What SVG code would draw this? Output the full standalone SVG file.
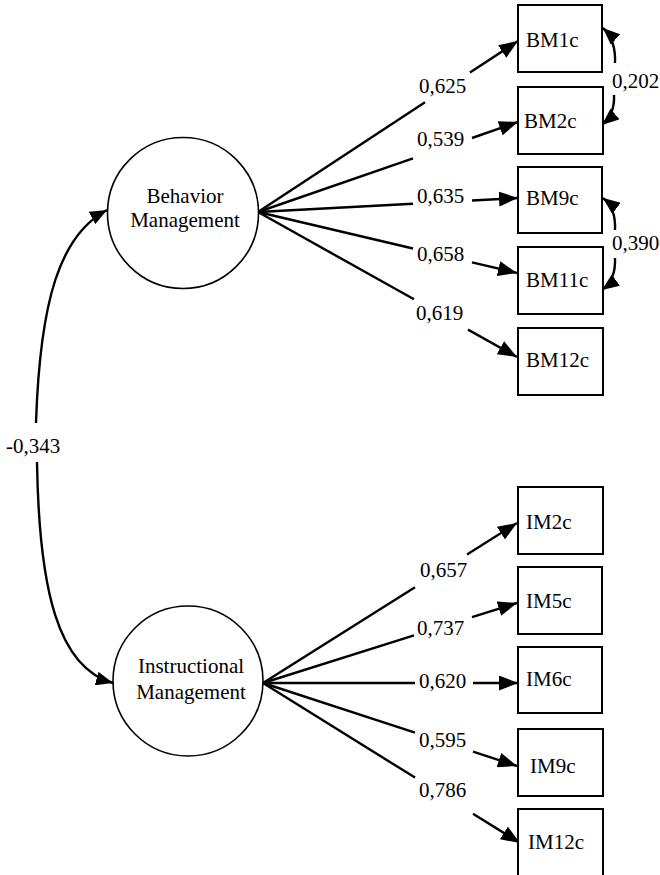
<svg xmlns="http://www.w3.org/2000/svg" width="660" height="875" viewBox="0 0 660 875">
<style>
text{font-family:"Liberation Serif","Tinos","Nimbus Roman","Times New Roman","DejaVu Serif",serif;font-size:21px;fill:#000}
.c{text-anchor:middle}
.box{fill:#fff;stroke:#000;stroke-width:2}
.lat{fill:#fff;stroke:#000;stroke-width:1.6}
.ln{fill:none;stroke:#000;stroke-width:2.4}
</style>
<defs>
<marker id="ah" viewBox="0 0 19 15" refX="19" refY="7.5" markerWidth="19" markerHeight="15" markerUnits="userSpaceOnUse" orient="auto"><path d="M0,0 L19,7.5 L0,15 z" fill="#000"/></marker>
<marker id="ah2" viewBox="0 0 17 14" refX="17" refY="7" markerWidth="17" markerHeight="14" markerUnits="userSpaceOnUse" orient="auto"><path d="M0,0 L17,7 L0,14 z" fill="#000"/></marker>
</defs>
<rect width="660" height="875" fill="#fff"/>
<g id="connectors">
<line class="ln" x1="258" y1="212" x2="425" y2="102.2"/><line class="ln" x1="470" y1="72.6" x2="518" y2="41" marker-end="url(#ah)"/>
<line class="ln" x1="258" y1="212" x2="413" y2="158.4"/><line class="ln" x1="472" y1="138" x2="518" y2="122" marker-end="url(#ah)"/>
<line class="ln" x1="258" y1="212" x2="413" y2="203.7"/><line class="ln" x1="472" y1="200.5" x2="518" y2="198" marker-end="url(#ah)"/>
<line class="ln" x1="258" y1="212" x2="413" y2="248.5"/><line class="ln" x1="472" y1="262.4" x2="517" y2="273" marker-end="url(#ah)"/>
<line class="ln" x1="258" y1="212" x2="414" y2="299.3"/><line class="ln" x1="468" y1="329.6" x2="517" y2="357" marker-end="url(#ah)"/>
<line class="ln" x1="263" y1="683" x2="415" y2="587.2"/><line class="ln" x1="467" y1="554.5" x2="517" y2="523" marker-end="url(#ah)"/>
<line class="ln" x1="263" y1="683" x2="414" y2="635.4"/><line class="ln" x1="472" y1="617.2" x2="517" y2="603" marker-end="url(#ah)"/>
<line class="ln" x1="263" y1="683" x2="415" y2="683"/><line class="ln" x1="473" y1="683" x2="518" y2="683" marker-end="url(#ah)"/>
<line class="ln" x1="263" y1="683" x2="415" y2="732.7"/><line class="ln" x1="473" y1="751.6" x2="517" y2="766" marker-end="url(#ah)"/>
<line class="ln" x1="263" y1="683" x2="415" y2="777.6"/><line class="ln" x1="473" y1="813.7" x2="520" y2="843" marker-end="url(#ah)"/>
<path class="ln" d="M615,63 Q616,40 603,28" marker-end="url(#ah2)"/>
<path class="ln" d="M614,95 Q615,114 602,125" marker-end="url(#ah2)"/>
<path class="ln" d="M615,230 Q616,208 603,198" marker-end="url(#ah2)"/>
<path class="ln" d="M615,258 Q616,280 602,290" marker-end="url(#ah2)"/>
<path class="ln" d="M36,423 C40,300 60,235 107,210" marker-end="url(#ah2)"/>
<path class="ln" d="M37,462 C39,590 58,668 113,683" marker-end="url(#ah2)"/>
<text x="419" y="93">0,625</text>
<text x="417" y="146">0,539</text>
<text x="417" y="203">0,635</text>
<text x="417" y="261">0,658</text>
<text x="416" y="320">0,619</text>
<text x="420" y="577">0,657</text>
<text x="417" y="635">0,737</text>
<text x="419" y="688">0,620</text>
<text x="419" y="747">0,595</text>
<text x="419" y="797">0,786</text>
<text x="612" y="88">0,202</text>
<text x="612" y="250">0,390</text>
<text x="6" y="453">-0,343</text>
</g>
<g id="behavior">
<circle class="lat" cx="183" cy="213" r="75.5"/>
<text class="c" x="185" y="203">Behavior</text>
<text class="c" x="185" y="227">Management</text>
</g>
<g id="instructional">
<circle class="lat" cx="188" cy="681" r="75"/>
<text class="c" x="191" y="673">Instructional</text>
<text class="c" x="191" y="699">Management</text>
</g>
<g id="BM1c"><rect class="box" x="518" y="5" width="84" height="67"/><text x="526" y="47">BM1c</text></g>
<g id="BM2c"><rect class="box" x="518" y="87" width="85" height="67"/><text x="524" y="128">BM2c</text></g>
<g id="BM9c"><rect class="box" x="518" y="167" width="84" height="66"/><text x="526" y="205">BM9c</text></g>
<g id="BM11c"><rect class="box" x="518" y="247" width="85" height="67"/><text x="526" y="287">BM11c</text></g>
<g id="BM12c"><rect class="box" x="518" y="328" width="85" height="67"/><text x="526" y="367">BM12c</text></g>
<g id="IM2c"><rect class="box" x="518" y="487" width="85" height="67"/><text x="526" y="529">IM2c</text></g>
<g id="IM5c"><rect class="box" x="518" y="567" width="84" height="67"/><text x="526" y="608">IM5c</text></g>
<g id="IM6c"><rect class="box" x="518" y="647" width="84" height="66"/><text x="526" y="686">IM6c</text></g>
<g id="IM9c"><rect class="box" x="518" y="729" width="85" height="67"/><text x="530" y="773">IM9c</text></g>
<g id="IM12c"><rect class="box" x="518" y="809" width="85" height="70"/><text x="528" y="849">IM12c</text></g>
</svg>
